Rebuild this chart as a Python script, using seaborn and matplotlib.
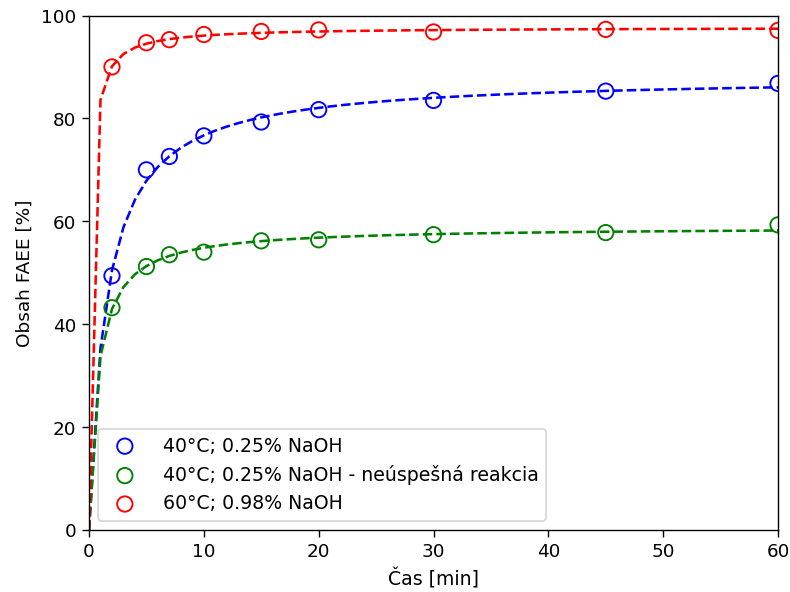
import numpy as np
import pandas as pd
import matplotlib
matplotlib.use("Agg")
import matplotlib.pyplot as plt
import seaborn as sns

# Reaction time [min]
time_min = [2, 5, 7, 10, 15, 20, 30, 45, 60]

# FAEE content [%] for each experiment
faee_40c_025 = [49.4, 70.0, 72.6, 76.6, 79.3, 81.7, 83.5, 85.3, 86.8]
faee_40c_025_failed = [43.2, 51.2, 53.5, 54.0, 56.2, 56.4, 57.4, 57.8, 59.3]
faee_60c_098 = [90.0, 94.7, 95.3, 96.3, 96.9, 97.2, 96.8, 97.3, 97.1]

labels = [
    "40°C; 0.25% NaOH",
    "40°C; 0.25% NaOH - neúspešná reakcia",
    "60°C; 0.98% NaOH",
]
colors = ["blue", "green", "red"]
series = [faee_40c_025, faee_40c_025_failed, faee_60c_098]


def fit_hyperbola(t, y):
    """Least-squares fit of y = a*t/(b+t); returns (a, b)."""
    t = np.asarray(t, float)
    y = np.asarray(y, float)
    best = None
    for b in np.linspace(0.01, 10, 20000):
        f = t / (b + t)
        a = np.dot(y, f) / np.dot(f, f)
        sse = np.sum((y - a * f) ** 2)
        if best is None or sse < best[0]:
            best = (sse, a, b)
    return best[1], best[2]


t_model = np.arange(0, 61, 1.0)

points = pd.DataFrame({
    "t": np.tile(time_min, 3),
    "y": np.concatenate(series),
    "serie": np.repeat(labels, len(time_min)),
})

curves = []
for lab, ys in zip(labels, series):
    a, b = fit_hyperbola(time_min, ys)
    curves.append(pd.DataFrame({"t": t_model, "y": a * t_model / (b + t_model), "serie": lab}))
curves = pd.concat(curves, ignore_index=True)

plt.rcParams.update({
    "font.size": 11,
    "xtick.major.size": 4,
    "ytick.major.size": 4,
})

fig = plt.figure(figsize=(6.4, 4.8), dpi=123.44)
ax = fig.add_axes([89 / 790, 1 - 530 / 592, (778 - 89) / 790, (530 - 16) / 592])

for lab, col in zip(labels, colors):
    sub = curves[curves["serie"] == lab]
    sns.lineplot(data=sub, x="t", y="y", ax=ax, color=col, linestyle="--",
                 linewidth=1.5, legend=False)

for lab, col in zip(labels, colors):
    sub = points[points["serie"] == lab]
    sns.scatterplot(data=sub, x="t", y="y", ax=ax, s=80, marker="o",
                    facecolor="none", edgecolor=col, linewidth=1.1, label=lab,
                    zorder=3)

ax.set_xlim(0, 60)
ax.set_ylim(0, 100)
ax.set_xticks(range(0, 61, 10))
ax.set_yticks(range(0, 101, 20))
ax.tick_params(labelsize=10.7)
ax.set_xlabel("Čas [min]")
ax.set_ylabel("Obsah FAEE [%]", fontsize=10.8)
ax.legend(loc="lower left", fontsize=11, handletextpad=1.0)

fig.savefig("out.png", dpi=123.44)
